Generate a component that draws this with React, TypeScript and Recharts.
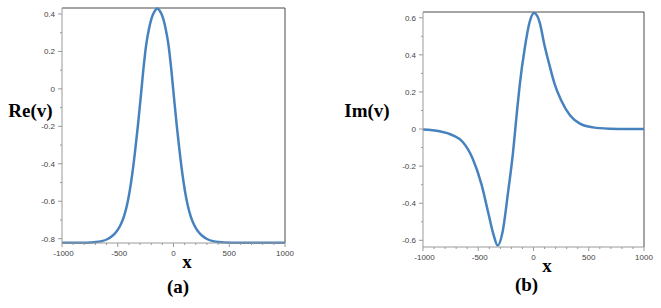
import { LineChart, Line, XAxis, YAxis, ReferenceLine } from 'recharts';

// Re(v) profile, panel (a)
const reX = [-1000, -900, -800, -745, -695, -645, -595, -545, -520, -495, -470, -445, -420, -395, -370, -345, -320, -295, -270, -245, -220, -195, -170, -145, -120, -95, -70, -45, -20, 5, 30, 55, 80, 105, 130, 155, 180, 205, 230, 255, 305, 355, 405, 455, 600, 700, 800, 900, 1000];
const reV = [-0.821, -0.821, -0.821, -0.82, -0.818, -0.813, -0.803, -0.783, -0.768, -0.748, -0.72, -0.682, -0.628, -0.553, -0.455, -0.335, -0.2, -0.05, 0.105, 0.235, 0.32, 0.38, 0.414, 0.43, 0.414, 0.38, 0.32, 0.235, 0.105, -0.05, -0.2, -0.335, -0.455, -0.553, -0.628, -0.682, -0.72, -0.748, -0.768, -0.783, -0.803, -0.813, -0.818, -0.82, -0.821, -0.821, -0.821, -0.821, -0.822];

// Im(v) profile, panel (b)
const imX = [-1000, -850, -730, -640, -550, -470, -410, -360, -325, -280, -230, -185, -150, -125, -80, -35, 5, 55, 100, 145, 190, 250, 330, 420, 540, 690, 850, 1000];
const imV = [-0.003, -0.012, -0.034, -0.07, -0.16, -0.3, -0.45, -0.573, -0.628, -0.555, -0.34, -0.124, 0.092, 0.236, 0.433, 0.577, 0.625, 0.577, 0.45, 0.343, 0.245, 0.155, 0.074, 0.029, 0.009, 0.002, 0, 0];

const xTicks = [-1000, -900, -800, -700, -600, -500, -400, -300, -200, -100, 0, 100, 200, 300, 400, 500, 600, 700, 800, 900, 1000];
const reTicks = [-0.8, -0.7, -0.6, -0.5, -0.4, -0.3, -0.2, -0.1, 0, 0.1, 0.2, 0.3, 0.4];
const imTicks = [-0.6, -0.5, -0.4, -0.3, -0.2, -0.1, 0, 0.1, 0.2, 0.3, 0.4, 0.5, 0.6];

const reData = reX.map((x, i) => ({ x, v: reV[i] }));
const imData = imX.map((x, i) => ({ x, v: imV[i] }));

const BLUE = '#4682be';
const AXIS = '#9a9a9a';
const FRAME = '#4a4a4a';
const tickFont = { fontFamily: '"Liberation Sans", Arial, sans-serif', fontSize: 8, fill: '#444' };
const labelFont = { fontFamily: '"Liberation Serif", "Times New Roman", serif', fontWeight: 700, fontSize: 19, fill: '#000' };

function XTick(props: any) {
  const { x, y, payload } = props;
  const v = payload.value;
  const major = v % 500 === 0;
  return (
    <g>
      <line x1={x} x2={x} y1={y} y2={y + (major ? 4 : 2)} stroke={AXIS} />
      {major && (
        <text x={x + (v < 0 ? 1.5 : 0)} y={y + 12.5} textAnchor="middle" {...tickFont}>
          {v}
        </text>
      )}
    </g>
  );
}

function YTick(props: any) {
  const { x, y, payload } = props;
  const v = payload.value;
  const major = Math.abs(Math.round(v * 10)) % 2 === 0;
  return (
    <g>
      <line x1={x - (major ? 4 : 2)} x2={x} y1={y} y2={y} stroke={AXIS} />
      {major && (
        <text x={x - 7} y={y + 3} textAnchor="end" {...tickFont}>
          {v}
        </text>
      )}
    </g>
  );
}

function Panel({ data, ticks, domain, margin, width }: any) {
  return (
    <LineChart width={width} height={308} data={data} margin={margin}>
      <XAxis
        dataKey="x"
        type="number"
        domain={[-1000, 1000]}
        ticks={xTicks}
        interval={0}
        tick={<XTick />}
        tickLine={false}
        tickSize={0}
        tickMargin={0}
        height={30}
        stroke={AXIS}
      />
      <YAxis
        type="number"
        domain={domain}
        ticks={ticks}
        interval={0}
        tick={<YTick />}
        tickLine={false}
        tickSize={0}
        tickMargin={0}
        width={40}
        stroke={AXIS}
      />
      <ReferenceLine y={domain[1]} stroke={FRAME} ifOverflow="visible" />
      <ReferenceLine x={1000} stroke={FRAME} ifOverflow="visible" />
      <Line
        type="monotone"
        dataKey="v"
        stroke={BLUE}
        strokeWidth={2.5}
        dot={false}
        isAnimationActive={false}
      />
    </LineChart>
  );
}

export default function App() {
  return (
    <div style={{ position: 'absolute', left: 0, top: 0, width: 661, height: 308, background: '#fff' }}>
      <div style={{ position: 'absolute', left: 0, top: 0 }}>
        <Panel
          data={reData}
          ticks={reTicks}
          domain={[-0.823, 0.432]}
          width={330}
          margin={{ top: 8, right: 45, bottom: 35, left: 22 }}
        />
      </div>
      <div style={{ position: 'absolute', left: 330, top: 0 }}>
        <Panel
          data={imData}
          ticks={imTicks}
          domain={[-0.636, 0.631]}
          width={331}
          margin={{ top: 12, right: 17, bottom: 31, left: 53 }}
        />
      </div>
      <svg width={661} height={308} style={{ position: 'absolute', left: 0, top: 0, pointerEvents: 'none' }}>
        <text x={30.5} y={117} textAnchor="middle" {...labelFont}>Re(v)</text>
        <text x={187} y={268} textAnchor="middle" {...labelFont}>x</text>
        <text x={178} y={292.5} textAnchor="middle" {...labelFont}>(a)</text>
        <text x={367} y={117} textAnchor="middle" {...labelFont}>Im(v)</text>
        <text x={547} y={271.5} textAnchor="middle" {...labelFont}>x</text>
        <text x={526.5} y={291} textAnchor="middle" {...labelFont}>(b)</text>
      </svg>
    </div>
  );
}
